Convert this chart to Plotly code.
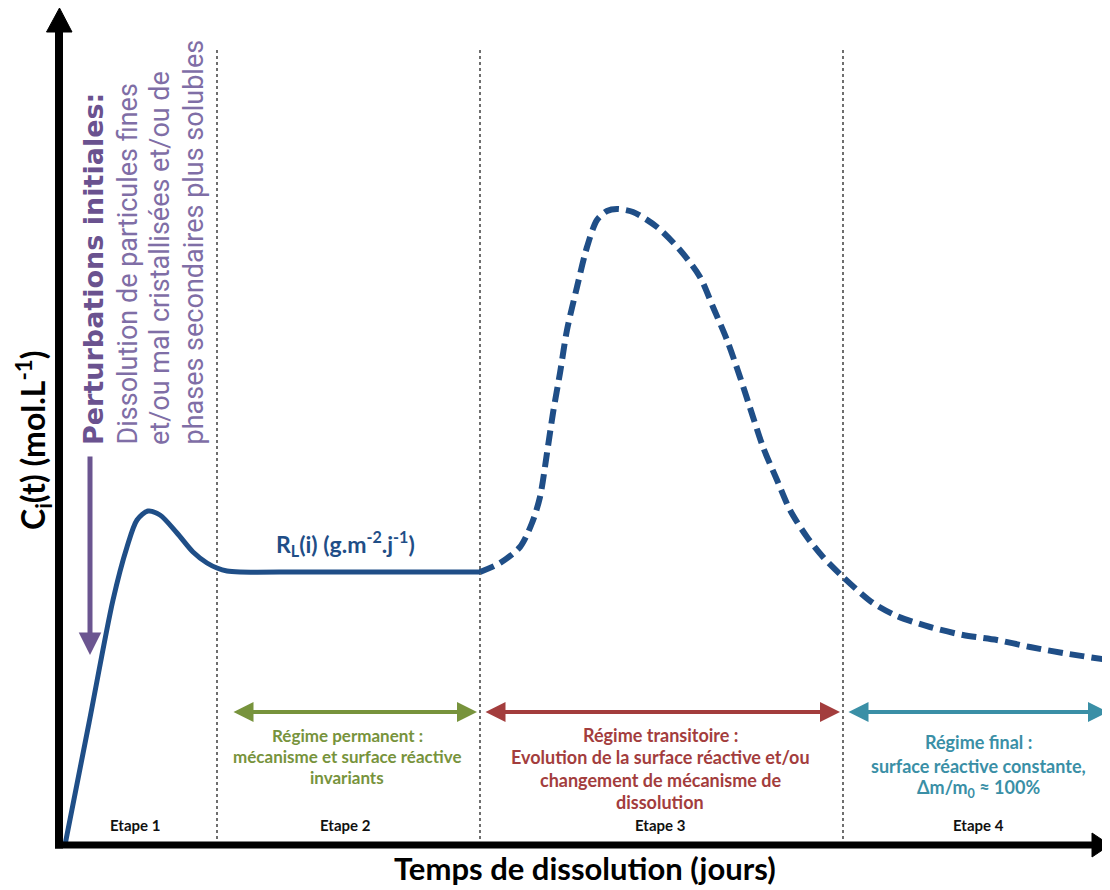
import plotly.graph_objects as go

# ---------------- data (x: time, arbitrary day units ; y: concentration, arbitrary units)
solid_t = [0.3, 2.7, 5.1, 6.5, 7.5, 8.6, 9.8, 11.5, 13.1, 14.5, 15.5, 16.5, 17.8, 23.8, 33.8, 41.8]
solid_c = [0.0, 12.2, 24.5, 29.8, 32.5, 33.4, 33.0, 31.2, 29.3, 28.2, 27.7, 27.4, 27.3, 27.3, 27.3, 27.3]

dash_t = [41.8, 43.8, 45.8, 47.0, 47.8, 48.5, 49.1, 49.8, 50.5, 51.5, 52.5, 53.5, 54.5, 55.5,
          57.1, 59.5, 61.8, 63.8, 65.1, 66.5, 67.8, 69.1, 70.1, 71.5, 72.8, 74.5, 76.1, 78.1,
          81.1, 83.5, 86.8, 90.1, 93.5, 96.8, 100.1, 104.6]
dash_c = [27.3, 28.2, 29.8, 32.2, 34.8, 39.2, 43.2, 47.2, 51.5, 55.8, 59.8, 62.5, 63.4, 63.6,
          63.3, 61.8, 59.5, 56.8, 53.8, 50.5, 46.8, 42.8, 39.8, 36.5, 33.5, 30.8, 28.8, 26.8,
          24.2, 22.9, 21.8, 21.0, 20.5, 19.8, 19.2, 18.5]

stage_bounds = [15.5, 41.8, 78.1]
stage_labels = ["Etape 1", "Etape 2", "Etape 3", "Etape 4"]
stage_label_x = [7.3, 28.3, 59.8, 91.6]

regime_arrows = [(17.0, 41.5), (42.2, 77.8), (78.5, 104.6)]
regime_colors = ["#77933c", "#a33d3d", "#3a8fa6"]
regime_sizes = [17, 18, 18]
regime_text_x = [28.5, 59.8, 91.6]
regime_lines = [
    ["Régime permanent :", "mécanisme et surface réactive", "invariants"],
    ["Régime transitoire :", "Evolution de la surface réactive et/ou",
     "changement de mécanisme de", "dissolution"],
    ["Régime final :", "surface réactive constante,", "Δm/m<sub>0</sub> ≈ 100%"],
]
regime_line_y = [[11.0, 8.9, 6.8], [11.0, 8.8, 6.5, 4.3], [10.3, 7.9, 5.7]]

# ---------------- geometry of the frame (page has an 8px body margin)
X0, X1 = -5.4, 104.8
Y0, Y1 = -4.5, 83.7
AX_X = -0.3          # y-axis position
AX_Y = 0.0           # x-axis position
Y_TIP = 83.7
X_TIP = 104.8
TOP_DOT = 79.5

CURVE = "#1f4e87"
FONT = "Lato, Open Sans, sans-serif"

fig = go.Figure()
fig.add_trace(go.Scatter(x=solid_t, y=solid_c, mode="lines",
                         line=dict(color=CURVE, width=5, shape="spline", smoothing=0.8),
                         hoverinfo="skip", showlegend=False))
fig.add_trace(go.Scatter(x=dash_t, y=dash_c, mode="lines",
                         line=dict(color=CURVE, width=6, dash="15px,7px", shape="spline", smoothing=0.8),
                         hoverinfo="skip", showlegend=False))

shapes = []
for xb in stage_bounds:
    shapes.append(dict(type="line", xref="x", yref="y", x0=xb, x1=xb, y0=AX_Y, y1=TOP_DOT,
                       line=dict(color="#222222", width=1.3, dash="dot"), layer="below"))
shapes.append(dict(type="line", xref="x", yref="y", x0=AX_X, x1=AX_X, y0=AX_Y - 0.35, y1=Y_TIP - 2.0,
                   line=dict(color="black", width=8)))
shapes.append(dict(type="line", xref="x", yref="y", x0=AX_X - 0.4, x1=X_TIP - 1.5, y0=AX_Y, y1=AX_Y,
                   line=dict(color="black", width=7)))
shapes.append(dict(type="path", xref="x", yref="y",
                   path=f"M {AX_X-1.25},{Y_TIP-2.4} L {AX_X+0.05},{Y_TIP} L {AX_X+1.3},{Y_TIP-2.4} Z",
                   fillcolor="black", line=dict(color="black", width=1)))
shapes.append(dict(type="path", xref="x", yref="y",
                   path=f"M {X_TIP-1.8},{AX_Y+1.2} L {X_TIP},{AX_Y} L {X_TIP-1.8},{AX_Y-1.2} Z",
                   fillcolor="black", line=dict(color="black", width=1)))

ann = []
for (xa, xb), col in zip(regime_arrows, regime_colors):
    ann.append(dict(x=xb, y=13.3, ax=xa, ay=13.3, xref="x", yref="y", axref="x", ayref="y",
                    text="", showarrow=True, arrowhead=2, startarrowhead=2, arrowside="end+start",
                    arrowsize=1.0, startarrowsize=1.0, arrowwidth=4, arrowcolor=col, standoff=0,
                    startstandoff=0))
for xs, lines, ys, col, fs in zip(regime_text_x, regime_lines, regime_line_y, regime_colors, regime_sizes):
    for t, yy in zip(lines, ys):
        ann.append(dict(x=xs, y=yy, xref="x", yref="y", text=f"<b>{t}</b>", showarrow=False,
                        font=dict(family=FONT, size=fs, color=col), xanchor="center", yanchor="middle"))
for xs, t in zip(stage_label_x, stage_labels):
    ann.append(dict(x=xs, y=2.0, xref="x", yref="y", text=f"<b>{t}</b>", showarrow=False,
                    font=dict(family=FONT, size=15, color="#111111"), xanchor="center", yanchor="middle"))
ann.append(dict(x=28.3, y=30.2, xref="x", yref="y",
                text="<b>R<sub>L</sub>(i) (g.m<sup>-2</sup>.j<sup>-1</sup>)</b>", showarrow=False,
                font=dict(family=FONT, size=23, color=CURVE), xanchor="center", yanchor="middle"))
ann.append(dict(x=2.8, y=19.0, ax=2.8, ay=39.0, xref="x", yref="y", axref="x", ayref="y",
                text="", showarrow=True, arrowhead=2, arrowsize=0.9, arrowwidth=5,
                arrowcolor="#6b5590", standoff=0))
PURPLE = "#6a528f"
LIGHT = "#7f6ea6"
NARROW = "Liberation Sans Narrow, Roboto, sans-serif"
rot = [
    (3.1, "<b>Perturbations initiales:</b>", PURPLE, "DejaVu Sans, sans-serif", 27),
    (6.5, "Dissolution de particules fines", LIGHT, NARROW, 27),
    (9.8, "et/ou mal cristallisées et/ou de", LIGHT, NARROW, 27),
    (13.1, "phases secondaires plus solubles", LIGHT, NARROW, 27),
]
for xr, t, col, fam, fs in rot:
    ann.append(dict(x=xr, y=39.8, xref="x", yref="y", text=t, showarrow=False, textangle=-90,
                    font=dict(family=fam, size=fs, color=col),
                    xanchor="center", yanchor="bottom"))
ann.append(dict(x=-2.9, y=40.5, xref="x", yref="y",
                text="<b>C<sub>i</sub>(t) (mol.L<sup>-1</sup>)</b>", showarrow=False, textangle=-90,
                font=dict(family=FONT, size=32, color="black"), xanchor="center", yanchor="middle"))
ann.append(dict(x=52.3, y=-2.3, xref="x", yref="y",
                text="<b>Temps de dissolution (jours)</b>", showarrow=False,
                font=dict(family=FONT, size=31, color="black"), xanchor="center", yanchor="middle"))

fig.update_layout(
    width=1102, height=882, margin=dict(l=0, r=0, t=0, b=0),
    paper_bgcolor="white", plot_bgcolor="white",
    xaxis=dict(range=[X0, X1], visible=False, fixedrange=True),
    yaxis=dict(range=[Y0, Y1], visible=False, fixedrange=True),
    shapes=shapes, annotations=ann, showlegend=False,
)
fig.write_html("out.html")
